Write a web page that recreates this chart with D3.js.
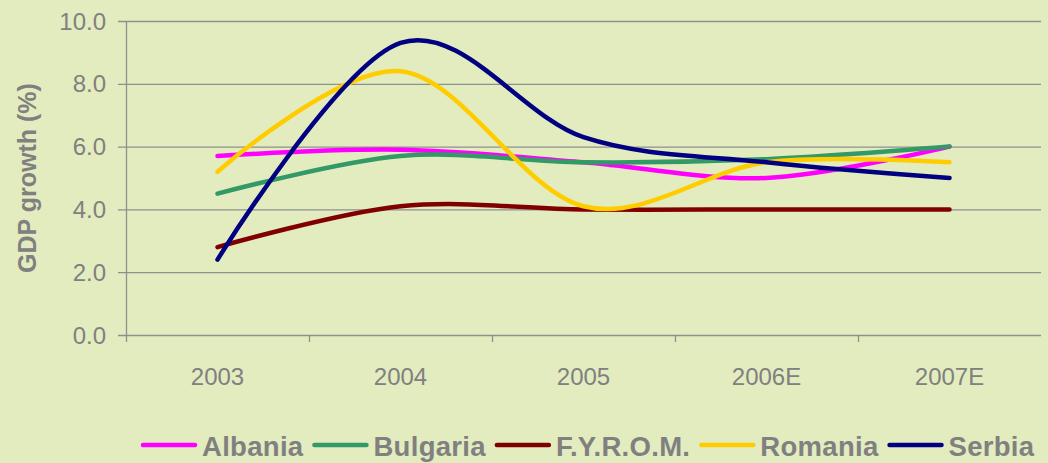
<!DOCTYPE html>
<html>
<head>
<meta charset="utf-8">
<script src="https://cdn.jsdelivr.net/npm/d3@7"></script>
<style>
  html, body { margin: 0; padding: 0; background: #e3ecbf; }
  svg { display: block; font-family: "Liberation Sans", Arial, sans-serif; }
</style>
</head>
<body>
<div id="chart"></div>
<script>
let years = ["2003", "2004", "2005", "2006E", "2007E"];
let countries = ["Albania", "Bulgaria", "F.Y.R.O.M.", "Romania", "Serbia"];
let colors = ["#ff00ff", "#339966", "#800000", "#ffcc00", "#000080"];

let albania  = [5.7, 5.9, 5.5, 5.0, 6.0];
let bulgaria = [4.5, 5.7, 5.5, 5.6, 6.0];
let fyrom    = [2.8, 4.1, 4.0, 4.0, 4.0];
let romania  = [5.2, 8.4, 4.1, 5.5, 5.5];
let serbia   = [2.4, 9.3, 6.3, 5.5, 5.0];

let yTicks = [0, 2, 4, 6, 8, 10];

let series = [albania, bulgaria, fyrom, romania, serbia];

let width = 1048, height = 463;
let svg = d3.select('#chart')
    .append('svg')
    .attr('width', width)
    .attr('height', height);

let x = d3.scaleBand()
    .domain(years)
    .range([126, 1041])
    .padding(0);

let y = d3.scaleLinear()
    .domain([0, 10])
    .range([335, 21]);

let grey = '#808080';
let gridColor = '#8f8f8f';

// horizontal grid lines with small ticks on the left
svg.append('g')
    .selectAll('line')
    .data(yTicks)
    .enter()
    .append('line')
    .attr('x1', 118)
    .attr('x2', 1041)
    .attr('y1', function (d) { return y(d) + 0.5; })
    .attr('y2', function (d) { return y(d) + 0.5; })
    .style('stroke', gridColor)
    .style('stroke-width', 1.3);

// y labels
svg.append('g')
    .selectAll('text')
    .data(yTicks)
    .enter()
    .append('text')
    .attr('x', 106)
    .attr('y', function (d) { return y(d); })
    .attr('dy', '0.36em')
    .attr('text-anchor', 'end')
    .attr('font-size', 24)
    .style('fill', grey)
    .text(function (d) { return d3.format('.1f')(d); });

// vertical axis
svg.append('line')
    .attr('x1', 126.5).attr('x2', 126.5)
    .attr('y1', 21).attr('y2', 342)
    .style('stroke', gridColor)
    .style('stroke-width', 1.3);

// category boundary ticks
svg.append('g')
    .selectAll('line')
    .data(years.slice(1))
    .enter()
    .append('line')
    .attr('x1', function (d) { return x(d) + 0.5; })
    .attr('x2', function (d) { return x(d) + 0.5; })
    .attr('y1', 335)
    .attr('y2', 342)
    .style('stroke', gridColor)
    .style('stroke-width', 1.3);

// x labels
svg.append('g')
    .selectAll('text')
    .data(years)
    .enter()
    .append('text')
    .attr('x', function (d) { return x(d) + x.bandwidth() / 2; })
    .attr('y', 385)
    .attr('text-anchor', 'middle')
    .attr('font-size', 24)
    .style('fill', grey)
    .text(function (d) { return d; });

// axis title
svg.append('text')
    .attr('transform', 'translate(36,178) rotate(-90)')
    .attr('text-anchor', 'middle')
    .attr('font-size', 25)
    .attr('font-weight', 'bold')
    .style('fill', grey)
    .text('GDP growth (%)');

// lines
let line = d3.line()
    .x(function (d, i) { return x(years[i]) + x.bandwidth() / 2; })
    .y(function (d) { return y(d); })
    .curve(d3.curveCatmullRom.alpha(0));

svg.append('g')
    .selectAll('path')
    .data(series)
    .enter()
    .append('path')
    .attr('d', line)
    .style('fill', 'none')
    .style('stroke', function (d, i) { return colors[i]; })
    .style('stroke-width', 4.5)
    .style('stroke-linecap', 'round')
    .style('stroke-linejoin', 'round');

// legend
let legend = svg.append('g');
let lx = 143;
countries.forEach(function (c, i) {
    legend.append('line')
        .attr('x1', lx).attr('x2', lx + 52)
        .attr('y1', 445).attr('y2', 445)
        .style('stroke', colors[i])
        .style('stroke-width', 4.5)
        .style('stroke-linecap', 'round');
    let t = legend.append('text')
        .attr('x', lx + 59)
        .attr('y', 456)
        .attr('font-size', 27.5)
        .attr('font-weight', 'bold')
        .attr('letter-spacing', 0.3)
        .style('fill', grey)
        .text(c);
    lx = lx + 59 + t.node().getComputedTextLength() + 11;
});
</script>
</body>
</html>
